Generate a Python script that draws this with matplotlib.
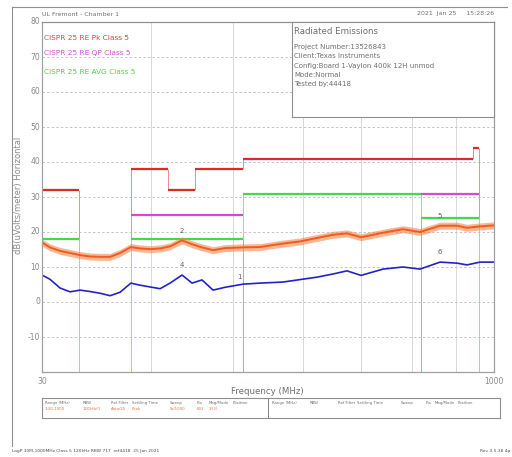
import numpy as np
import matplotlib
matplotlib.use("Agg")
import matplotlib.pyplot as plt

# 周波数 (MHz) と測定値 (dBuV/m)
freq = [30.0, 31.9, 34.5, 37.3, 40.3, 43.5, 47.1, 50.9, 55.0, 59.8, 64.2, 69.4, 75.0,
        81.0, 88.9, 96.1, 103.8, 113.1, 124.1, 142.7, 162.8, 194.6, 222.0, 253.3,
        286.8, 319.7, 356.5, 422.8, 493.8, 563.3, 657.8, 750.6, 811.1, 897.5, 1000.0]
peak = [17.0, 15.6, 14.6, 14.0, 13.4, 13.0, 12.9, 12.9, 14.0, 15.7, 15.3, 15.1, 15.3,
        15.9, 17.6, 16.5, 15.6, 14.8, 15.4, 15.6, 15.7, 16.7, 17.3, 18.3,
        19.2, 19.6, 18.5, 19.8, 20.8, 20.0, 21.8, 21.8, 21.2, 21.6, 21.9]
avg = [7.7, 6.5, 4.0, 2.9, 3.4, 3.0, 2.5, 1.8, 2.8, 5.4, 4.8, 4.3, 3.8,
       5.4, 7.7, 5.4, 6.3, 3.4, 4.2, 5.1, 5.4, 5.7, 6.4, 7.1,
       8.0, 8.9, 7.6, 9.4, 10.0, 9.4, 11.4, 11.1, 10.6, 11.4, 11.4]

# CISPR 25 Class 5 限度値 (None = 限度なし)
pk_edges = [30, 40, 60, 80, 98, 143, 850, 891]
pk_levels = [32, None, 38, 32, 38, 41, 44]
qp_edges = [30, 60, 143, 567, 891]
qp_levels = [None, 25, None, 31]
av_edges = [30, 40, 60, 143, 567, 891]
av_levels = [18, None, 18, 31, 24]

# マーカー
markers = [("2", 88.9, 19.5), ("4", 88.9, 9.6), ("5", 657.8, 23.7),
           ("6", 657.8, 13.3), ("1", 139.0, 6.3)]

grid_freqs = [70, 132, 227, 356, 529, 745]
yticks = [80, 70, 60, 50, 40, 30, 20, 10, 0, -10]

W, H = 512, 457
fig = plt.figure(figsize=(W / 100, H / 100), dpi=100)
gray = "#8a8a8a"


def fx(x):
    return x / W


def fy(y):
    return 1 - y / H


ax = fig.add_axes([fx(42), fy(372), fx(494) - fx(42), fy(22) - fy(372)])
ax.set_xscale("log")
ax.set_xlim(30, 1000)
ax.set_ylim(-20, 80)

# グリッド
for g in grid_freqs:
    ax.axvline(g, color="#d8d8d8", lw=0.7, zorder=0)
for v in range(-10, 80, 10):
    ax.axhline(v, color="#bdbdbd", lw=0.6, ls=(0, (3, 2.5)), zorder=0)


def draw_limit(edges, levels, color, vcolor):
    for i, lv in enumerate(levels):
        if lv is not None:
            ax.hlines(lv, edges[i], edges[i + 1], color=color, lw=1.6, zorder=3)
    for i, e in enumerate(edges):
        if e <= 30:
            continue
        left = levels[i - 1] if i > 0 else None
        right = levels[i] if i < len(levels) else None
        vals = [v for v in (left, right) if v is not None]
        if not vals:
            continue
        lo = min(vals) if len(vals) == 2 else -20
        ax.vlines(e, lo, max(vals), color=vcolor, lw=0.7, zorder=2)


draw_limit(pk_edges, pk_levels, "#e02828", "#f08a8a")
draw_limit(qp_edges, qp_levels, "#d24bd2", "#e58ae5")
draw_limit(av_edges, av_levels, "#46d846", "#8ee88e")

pk = np.array(peak)
ax.fill_between(freq, pk - 1.0, pk + 1.0, color="#f7874d", alpha=0.6, lw=0, zorder=4)
ax.plot(freq, peak, color="#f25a1e", lw=1.4, zorder=5)
ax.plot(freq, avg, color="#2222c8", lw=1.2, zorder=5)

for lab, f, v in markers:
    ax.text(f, v, lab, fontsize=5, color="#606060", ha="center", va="bottom", zorder=6)

ax.set_xticks([])
ax.set_yticks([])
ax.xaxis.set_minor_locator(matplotlib.ticker.NullLocator())
for s in ax.spines.values():
    s.set_color("#a0a0a0")
    s.set_linewidth(0.9)
    s.set_zorder(7)
ax.spines["top"].set_color("#909090")

# 目盛ラベル
for t in yticks:
    ax.text(-0.004, (t + 20) / 100, str(t), transform=ax.transAxes, ha="right",
            va="center", fontsize=5.5, color=gray)
ax.text(0, -0.015, "30", transform=ax.transAxes, ha="center", va="top", fontsize=5.5, color=gray)
ax.text(1, -0.015, "1000", transform=ax.transAxes, ha="center", va="top", fontsize=5.5, color=gray)

# 凡例テキスト
ax.text(fx(44), fy(38), "CISPR 25 RE Pk Class 5", transform=fig.transFigure,
        fontsize=5.3, color="#e04040", va="center")
ax.text(fx(44), fy(53), "CISPR 25 RE QP Class 5", transform=fig.transFigure,
        fontsize=5.3, color="#d050d0", va="center")
ax.text(fx(44), fy(72), "CISPR 25 RE AVG Class 5", transform=fig.transFigure,
        fontsize=5.3, color="#50d050", va="center")

# 情報ボックス
box = fig.add_axes([fx(292), fy(117), fx(494) - fx(292), fy(22) - fy(117)])
box.set_xticks([])
box.set_yticks([])
for s in box.spines.values():
    s.set_color("#909090")
    s.set_linewidth(0.8)
info = [("Radiated Emissions", 31, 6.2), ("Project Number:13526843", 47, 5),
        ("Client:Texas Instruments", 56, 5), ("Config:Board 1-Vaylon 400k 12H unmod", 66, 5),
        ("Mode:Normal", 75, 5), ("Tested by:44418", 84, 5)]
for txt, y, fs in info:
    fig.text(fx(294), fy(y), txt, fontsize=fs, color="#707070", va="center")

# タイトル行
fig.text(fx(42), fy(14), "UL Fremont - Chamber 1", fontsize=4.5, color="#707070", va="center")
fig.text(fx(494), fy(14), "2021  Jan 25     15:28:26", fontsize=4.5, color="#707070",
         va="center", ha="right")

# 軸ラベル
fig.text(fx(19), fy(195), "dB(uVolts/meter) Horizontal", rotation=90, fontsize=6,
         color=gray, ha="center", va="center")
fig.text(fx(267), fy(391), "Frequency (MHz)", fontsize=6.2, color="#707070",
         ha="center", va="center")

# 外枠
fig.add_artist(plt.Line2D([fx(12), fx(12)], [fy(7), fy(446)], color="#909090", lw=0.8))
fig.add_artist(plt.Line2D([fx(12), fx(507)], [fy(7), fy(7)], color="#909090", lw=0.8))

# 設定テーブル
tbl = fig.add_axes([fx(42), fy(418), fx(500) - fx(42), fy(398) - fy(418)])
tbl.set_xticks([])
tbl.set_yticks([])
for s in tbl.spines.values():
    s.set_color("#909090")
    s.set_linewidth(0.8)
fig.add_artist(plt.Line2D([fx(268), fx(268)], [fy(398), fy(418)], color="#808080", lw=0.7))

headers = ["Range (MHz)", "RBW", "Ref Filter", "Settling Time", "Sweep", "Pts",
           "Mag/Mode", "Position"]
hdr_left = [45, 83, 111, 132, 170, 197, 209, 233]
hdr_right = [272, 310, 338, 357, 401, 426, 435, 458]
values = ["1:30-1000", "120kHz/1", "Auto/25", "Peak", "5s/1000", "691", "1/(3)"]
for h, x in zip(headers, hdr_left):
    fig.text(fx(x), fy(403), h, fontsize=2.8, color="#707070", va="center")
for h, x in zip(headers, hdr_right):
    fig.text(fx(x), fy(403), h, fontsize=2.8, color="#707070", va="center")
for v, x in zip(values, hdr_left):
    fig.text(fx(x), fy(409), v, fontsize=2.8, color="#f07040", va="center")

# フッター
fig.text(fx(12), fy(451), "LogP 30M-1000MHz Class 5 120kHz RBW 717  ref4418  25 Jan 2021",
         fontsize=3.2, color="#505050", va="center")
fig.text(fx(510), fy(451), "Rev 3.5.38 4p", fontsize=3.2, color="#505050",
         va="center", ha="right")

fig.savefig("out.png", dpi=100, facecolor="white")
